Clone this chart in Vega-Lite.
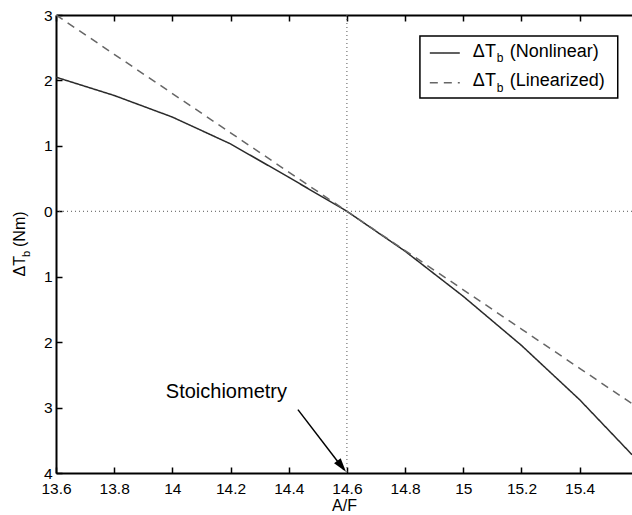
{
  "$schema": "https://vega.github.io/schema/vega-lite/v6.json",
  "width": 576,
  "height": 458,
  "autosize": {"type": "none"},
  "padding": {"left": 56, "top": 15, "right": 0, "bottom": 42},
  "background": "white",
  "config": {
    "view": {"stroke": null},
    "font": "Liberation Sans",
    "axis": {
      "grid": false,
      "domainColor": "black",
      "domainWidth": 2,
      "tickColor": "black",
      "tickWidth": 1.5,
      "tickSize": -6,
      "labelFont": "Liberation Sans",
      "labelFontSize": 15.5,
      "labelColor": "black",
      "labelFlush": false,
      "labelOverlap": false,
      "titleFont": "Liberation Sans",
      "titleFontSize": 16,
      "titleFontWeight": "normal",
      "titleColor": "black"
    }
  },
  "datasets": {
    "curves": [
      {"x": 13.6, "y": 2.05, "series": "Nonlinear"},
      {"x": 13.8, "y": 1.77, "series": "Nonlinear"},
      {"x": 14.0, "y": 1.44, "series": "Nonlinear"},
      {"x": 14.2, "y": 1.03, "series": "Nonlinear"},
      {"x": 14.4, "y": 0.52, "series": "Nonlinear"},
      {"x": 14.6, "y": 0.0, "series": "Nonlinear"},
      {"x": 14.8, "y": -0.61, "series": "Nonlinear"},
      {"x": 15.0, "y": -1.3, "series": "Nonlinear"},
      {"x": 15.2, "y": -2.05, "series": "Nonlinear"},
      {"x": 15.4, "y": -2.88, "series": "Nonlinear"},
      {"x": 15.58, "y": -3.72, "series": "Nonlinear"},
      {"x": 13.6, "y": 3.0, "series": "Linearized"},
      {"x": 13.8, "y": 2.4, "series": "Linearized"},
      {"x": 14.0, "y": 1.8, "series": "Linearized"},
      {"x": 14.2, "y": 1.2, "series": "Linearized"},
      {"x": 14.4, "y": 0.6, "series": "Linearized"},
      {"x": 14.6, "y": 0.0, "series": "Linearized"},
      {"x": 14.8, "y": -0.6, "series": "Linearized"},
      {"x": 15.0, "y": -1.2, "series": "Linearized"},
      {"x": 15.2, "y": -1.8, "series": "Linearized"},
      {"x": 15.4, "y": -2.4, "series": "Linearized"},
      {"x": 15.58, "y": -2.94, "series": "Linearized"}
    ],
    "legendBox": [{"x": 14.851, "x2": 15.531, "y": 2.68, "y2": 1.73}],
    "legendLines": [
      {"x": 14.885, "x2": 14.988, "y": 2.42, "series": "Nonlinear"},
      {"x": 14.885, "x2": 14.988, "y": 1.964, "series": "Linearized"}
    ],
    "legendMain": [
      {"x": 15.033, "y": 2.358, "text": "ΔT"},
      {"x": 15.16, "y": 2.358, "text": "(Nonlinear)"},
      {"x": 15.033, "y": 1.922, "text": "ΔT"},
      {"x": 15.16, "y": 1.922, "text": "(Linearized)"}
    ],
    "legendSub": [
      {"x": 15.1155, "y": 2.282, "text": "b"},
      {"x": 15.1155, "y": 1.822, "text": "b"}
    ]
  },
  "resolve": {"axis": {"x": "independent", "y": "independent"}},
  "layer": [
    {
      "data": {"values": [{"x": 14.6}]},
      "mark": {"type": "rule", "stroke": "#555555", "strokeDash": [1, 3], "strokeWidth": 1},
      "encoding": {
        "x": {
          "field": "x", "type": "quantitative",
          "scale": {"domain": [13.6, 15.58], "nice": false, "zero": false},
          "axis": {"orient": "top", "values": [13.6, 13.8, 14.0, 14.2, 14.4, 14.6, 14.8, 15.0, 15.2, 15.4], "labels": false, "title": null}
        }
      }
    },
    {
      "data": {"values": [{"y": 0}]},
      "mark": {"type": "rule", "stroke": "#555555", "strokeDash": [1, 3], "strokeWidth": 1},
      "encoding": {
        "y": {"field": "y", "type": "quantitative", "scale": {"domain": [-4, 3], "nice": false, "zero": false}, "axis": null}
      }
    },
    {
      "data": {"name": "curves"},
      "mark": {"type": "line", "strokeWidth": 1.5, "clip": true},
      "encoding": {
        "x": {
          "field": "x", "type": "quantitative",
          "scale": {"domain": [13.6, 15.58], "nice": false, "zero": false},
          "axis": {"orient": "bottom", "values": [13.6, 13.8, 14.0, 14.2, 14.4, 14.6, 14.8, 15.0, 15.2, 15.4], "format": "~g", "labelPadding": 14, "title": "A/F", "titlePadding": 1}
        },
        "y": {
          "field": "y", "type": "quantitative",
          "scale": {"domain": [-4, 3], "nice": false, "zero": false},
          "axis": {"orient": "left", "values": [-4, -3, -2, -1, 0, 1, 2, 3], "labelExpr": "format(abs(datum.value), 'd')", "labelPadding": 10, "title": null}
        },
        "color": {"field": "series", "type": "nominal", "scale": {"domain": ["Nonlinear", "Linearized"], "range": ["#2a2a2a", "#666666"]}, "legend": null},
        "strokeDash": {"field": "series", "type": "nominal", "scale": {"domain": ["Nonlinear", "Linearized"], "range": [[1, 0], [8, 6]]}, "legend": null}
      }
    },
    {
      "data": {"name": "legendBox"},
      "mark": {"type": "rect", "fill": "white", "stroke": "black", "strokeWidth": 1.5},
      "encoding": {
        "x": {"field": "x", "type": "quantitative", "axis": null},
        "x2": {"field": "x2"},
        "y": {"field": "y", "type": "quantitative", "axis": null},
        "y2": {"field": "y2"}
      }
    },
    {
      "data": {"name": "legendLines"},
      "mark": {"type": "rule", "strokeWidth": 1.5},
      "encoding": {
        "x": {"field": "x", "type": "quantitative", "axis": null},
        "x2": {"field": "x2"},
        "y": {"field": "y", "type": "quantitative", "axis": null},
        "color": {"field": "series", "type": "nominal", "scale": {"domain": ["Nonlinear", "Linearized"], "range": ["#2a2a2a", "#666666"]}, "legend": null},
        "strokeDash": {"field": "series", "type": "nominal", "scale": {"domain": ["Nonlinear", "Linearized"], "range": [[1, 0], [6, 8]]}, "legend": null}
      }
    },
    {
      "data": {"name": "legendMain"},
      "mark": {"type": "text", "align": "left", "baseline": "alphabetic", "fontSize": 18, "font": "Liberation Sans", "fill": "black"},
      "encoding": {
        "x": {"field": "x", "type": "quantitative", "axis": null},
        "y": {"field": "y", "type": "quantitative", "axis": null},
        "text": {"field": "text"}
      }
    },
    {
      "data": {"name": "legendSub"},
      "mark": {"type": "text", "align": "left", "baseline": "alphabetic", "fontSize": 12, "font": "Liberation Sans", "fill": "black"},
      "encoding": {
        "x": {"field": "x", "type": "quantitative", "axis": null},
        "y": {"field": "y", "type": "quantitative", "axis": null},
        "text": {"field": "text"}
      }
    },
    {
      "data": {"values": [{"x": 14.394, "y": -2.85, "text": "Stoichiometry"}]},
      "mark": {"type": "text", "align": "right", "baseline": "alphabetic", "fontSize": 20, "font": "Liberation Sans", "fill": "black"},
      "encoding": {
        "x": {"field": "x", "type": "quantitative", "axis": null},
        "y": {"field": "y", "type": "quantitative", "axis": null},
        "text": {"field": "text"}
      }
    },
    {
      "data": {"values": [{"x": 14.4316, "y": -3.032, "x2": 14.59, "y2": -3.95}]},
      "mark": {"type": "rule", "stroke": "black", "strokeWidth": 1.5},
      "encoding": {
        "x": {"field": "x", "type": "quantitative", "axis": null},
        "y": {"field": "y", "type": "quantitative", "axis": null},
        "x2": {"field": "x2"},
        "y2": {"field": "y2"}
      }
    },
    {
      "data": {"values": [{"x": 14.582, "y": -3.897}]},
      "mark": {"type": "point", "shape": "M0,-1L0.6,1L-0.6,1Z", "size": 196, "angle": 142, "filled": true, "color": "black", "opacity": 1},
      "encoding": {
        "x": {"field": "x", "type": "quantitative", "axis": null},
        "y": {"field": "y", "type": "quantitative", "axis": null}
      }
    },
    {
      "data": {"values": [{"x": 13.6, "y": -0.5, "text": "ΔT"}]},
      "mark": {"type": "text", "angle": 270, "align": "left", "baseline": "alphabetic", "fontSize": 16, "font": "Liberation Sans", "fill": "black", "dx": -32.5, "dy": -31},
      "encoding": {
        "x": {"field": "x", "type": "quantitative", "axis": null},
        "y": {"field": "y", "type": "quantitative", "axis": null},
        "text": {"field": "text"}
      }
    },
    {
      "data": {"values": [{"x": 13.6, "y": -0.5, "text": "b"}]},
      "mark": {"type": "text", "angle": 270, "align": "left", "baseline": "alphabetic", "fontSize": 11, "font": "Liberation Sans", "fill": "black", "dx": -13, "dy": -26},
      "encoding": {
        "x": {"field": "x", "type": "quantitative", "axis": null},
        "y": {"field": "y", "type": "quantitative", "axis": null},
        "text": {"field": "text"}
      }
    },
    {
      "data": {"values": [{"x": 13.6, "y": -0.5, "text": "(Nm)"}]},
      "mark": {"type": "text", "angle": 270, "align": "left", "baseline": "alphabetic", "fontSize": 16, "font": "Liberation Sans", "fill": "black", "dx": -3, "dy": -31},
      "encoding": {
        "x": {"field": "x", "type": "quantitative", "axis": null},
        "y": {"field": "y", "type": "quantitative", "axis": null},
        "text": {"field": "text"}
      }
    }
  ]
}
